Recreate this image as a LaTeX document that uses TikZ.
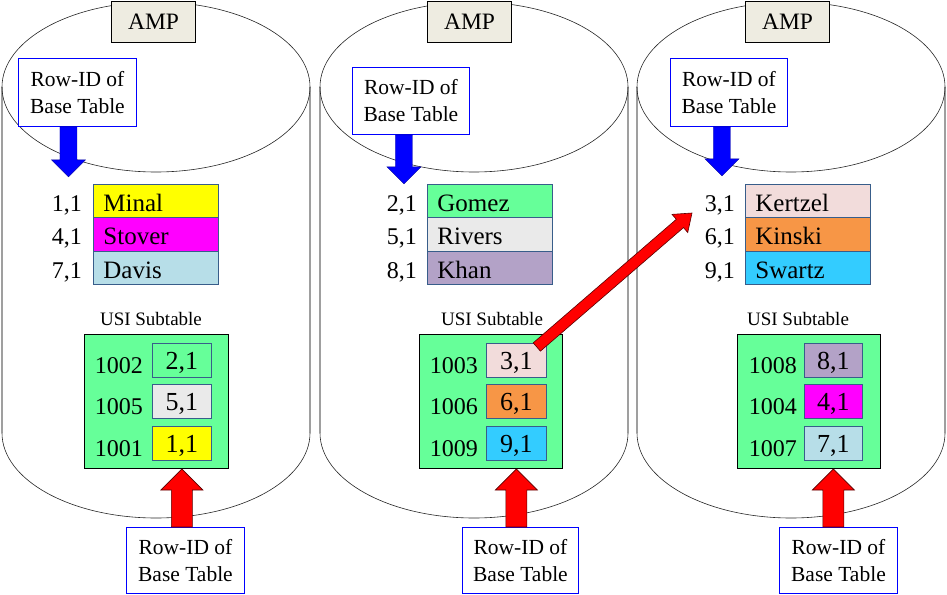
\documentclass[tikz,border=0pt]{standalone}
\usepackage{fontspec}
\setmainfont{Liberation Serif}
\usetikzlibrary{calc}
\definecolor{ampfill}{HTML}{EEECE1}
\definecolor{tabedge}{HTML}{385D8A}
\definecolor{usigreen}{HTML}{66FF99}
\definecolor{rowidblue}{HTML}{0000FF}
\definecolor{cYellow}{HTML}{FFFF00}
\definecolor{cMagenta}{HTML}{FF00FF}
\definecolor{cLightBlue}{HTML}{B7DEE8}
\definecolor{cGreen}{HTML}{66FF99}
\definecolor{cGrey}{HTML}{EAEAEA}
\definecolor{cLilac}{HTML}{B3A2C7}
\definecolor{cPink}{HTML}{F2DCDB}
\definecolor{cOrange}{HTML}{F79646}
\definecolor{cCyan}{HTML}{33CCFF}
\newcommand\blockarr[6]{%
  \coordinate (bahb) at ($(#3)!#6!(#2)$);
  \draw[#1] ($(#2)!#4!90:(#3)$) -- ($(bahb)!#4!90:(#3)$) -- ($(bahb)!#5!90:(#3)$) -- (#3)
    -- ($(bahb)!#5!-90:(#3)$) -- ($(bahb)!#4!-90:(#3)$) -- ($(#2)!#4!-90:(#3)$) -- cycle;}
\newcommand\drawcyl[1]{%
  \draw[cylside] (#1-154,87) -- (#1-154,433);
  \draw[cylside] (#1+154,87) -- (#1+154,433);
  \draw[cylrim] (#1-154,433) arc[start angle=180, end angle=0, x radius=154, y radius=85];
  \draw[cylrim] (#1,87) ellipse [x radius=154, y radius=85];}
\begin{document}
\begin{tikzpicture}[x=1pt,y=-1pt,
  cylside/.style={draw=gray!75, line width=1.3pt},
  cylrim/.style={draw=black!85, line width=0.6pt},
  ampbox/.style={draw=black, line width=1pt, fill=ampfill, minimum width=84, minimum height=41,
    inner sep=0, anchor=north west, font=\fontsize{23.5}{28}\selectfont},
  rowid/.style={draw=rowidblue, line width=0.9pt, fill=white, minimum width=118, minimum height=68,
    inner sep=0, align=center, anchor=north west, font=\fontsize{21.5}{27}\selectfont},
  namecell/.style={draw=tabedge, line width=0.8pt, minimum width=125, minimum height=33.3,
    text width=105, inner xsep=10, inner ysep=0, text height=21, text depth=-4, align=left,
    anchor=north west, font=\fontsize{25}{30}\selectfont},
  lbl/.style={inner sep=0, anchor=base east, font=\fontsize{24}{28}\selectfont},
  usibox/.style={draw=black, line width=1pt, fill=usigreen, minimum width=144, minimum height=134,
    inner sep=0, anchor=north west},
  usicell/.style={draw=tabedge, line width=0.8pt, minimum width=59, minimum height=34, inner sep=0,
    text height=18, text depth=0, anchor=north west, font=\fontsize{26}{30}\selectfont},
  usititle/.style={inner sep=0, anchor=base, font=\fontsize{19}{22}\selectfont},
  bluearr/.style={fill=blue, draw=blue!60!black, line width=0.4pt},
  redarr/.style={fill=red, draw=red!35!black, line width=0.6pt}]
\useasboundingbox (0,0) rectangle (947,594);

% bottom row-id box of the third AMP
\node[rowid, minimum height=66] (rw3) at (779,527) {Row-ID of\\Base Table};

% cylinders
\drawcyl{156}
\drawcyl{474}
\drawcyl{791}

% bottom row-id boxes
\node[rowid, minimum height=66] (rw1) at (126,527) {Row-ID of\\Base Table};
\node[rowid, minimum width=116, minimum height=66] (rw2) at (462,527) {Row-ID of\\Base Table};

% ---------- AMP 1 ----------
\node[ampbox] (amp1) at (111,1) {AMP};
\node[rowid] (rt1) at (18,58) {Row-ID of\\Base Table};
\node[namecell, fill=cYellow] (n11) at (93,184) {Minal};
\node[namecell, fill=cMagenta] (n12) at (93,217.3) {Stover};
\node[namecell, fill=cLightBlue] (n13) at (93,250.6) {Davis};
\node[lbl] (l11) at ($(n11.base west)+(-11,0)$) {1,1};
\node[lbl] (l12) at ($(n12.base west)+(-11,0)$) {4,1};
\node[lbl] (l13) at ($(n13.base west)+(-11,0)$) {7,1};
\coordinate (bb1) at ($(rt1.south)+(-9,0)$);
\coordinate (bt1) at ($(rt1.south)+(-9,50)$);
\blockarr{bluearr}{bb1}{bt1}{8.5pt}{17pt}{17pt}
\node[usititle] (ut1) at (151,325) {USI Subtable};
\node[usibox] (g1) at (84,334) {};
\node[usicell, fill=cGreen] (u11) at (152,343) {2,1};
\node[usicell, fill=cGrey] (u12) at (152,384) {5,1};
\node[usicell, fill=cYellow] (u13) at (152,426) {1,1};
\node[lbl] (k11) at ($(u11.base west)+(-9,4)$) {1002};
\node[lbl] (k12) at ($(u12.base west)+(-9,4)$) {1005};
\node[lbl] (k13) at ($(u13.base west)+(-9,4)$) {1001};
\coordinate (rtp1) at (u13.south |- g1.south);
\coordinate (rb1) at (u13.south |- rw1.north);
\blockarr{redarr}{rb1}{rtp1}{10.5pt}{21pt}{21pt}

% ---------- AMP 2 ----------
\node[ampbox] (amp2) at (427,1) {AMP};
\node[rowid, minimum width=117, minimum height=67] (rt2) at (352,67) {Row-ID of\\Base Table};
\node[namecell, fill=cGreen] (n21) at (427,184) {Gomez};
\node[namecell, fill=cGrey] (n22) at (427,217.3) {Rivers};
\node[namecell, fill=cLilac] (n23) at (427,250.6) {Khan};
\node[lbl] (l21) at ($(n21.base west)+(-10,0)$) {2,1};
\node[lbl] (l22) at ($(n22.base west)+(-10,0)$) {5,1};
\node[lbl] (l23) at ($(n23.base west)+(-10,0)$) {8,1};
\coordinate (bb2) at ($(rt2.south)+(-7,0)$);
\coordinate (bt2) at ($(rt2.south)+(-7,49)$);
\blockarr{bluearr}{bb2}{bt2}{8.5pt}{17pt}{17pt}
\node[usititle] (ut2) at (492,325) {USI Subtable};
\node[usibox, minimum width=143] (g2) at (419,334) {};
\node[usicell, minimum width=60, fill=cPink] (u21) at (486,343) {3,1};
\node[usicell, minimum width=60, fill=cOrange] (u22) at (486,384) {6,1};
\node[usicell, minimum width=60, fill=cCyan] (u23) at (486,426) {9,1};
\node[lbl] (k21) at ($(u21.base west)+(-8,4)$) {1003};
\node[lbl] (k22) at ($(u22.base west)+(-8,4)$) {1006};
\node[lbl] (k23) at ($(u23.base west)+(-8,4)$) {1009};
\coordinate (rtp2) at (u23.south |- g2.south);
\coordinate (rb2) at (u23.south |- rw2.north);
\blockarr{redarr}{rb2}{rtp2}{10.5pt}{21pt}{21pt}

% ---------- AMP 3 ----------
\node[ampbox] (amp3) at (745,1) {AMP};
\node[rowid, minimum width=117] (rt3) at (670,58) {Row-ID of\\Base Table};
\node[namecell, fill=cPink] (n31) at (745,184) {Kertzel};
\node[namecell, fill=cOrange] (n32) at (745,217.3) {Kinski};
\node[namecell, fill=cCyan] (n33) at (745,250.6) {Swartz};
\node[lbl] (l31) at ($(n31.base west)+(-10,0)$) {3,1};
\node[lbl] (l32) at ($(n32.base west)+(-10,0)$) {6,1};
\node[lbl] (l33) at ($(n33.base west)+(-10,0)$) {9,1};
\coordinate (bb3) at ($(rt3.south)+(-7,0)$);
\coordinate (bt3) at ($(rt3.south)+(-7,49)$);
\blockarr{bluearr}{bb3}{bt3}{8.5pt}{17pt}{17pt}
\node[usititle] (ut3) at (798,325) {USI Subtable};
\node[usibox, minimum width=143] (g3) at (737,334) {};
\node[usicell, minimum width=58, fill=cLilac] (u31) at (804,343) {8,1};
\node[usicell, minimum width=58, fill=cMagenta] (u32) at (804,384) {4,1};
\node[usicell, minimum width=58, fill=cLightBlue] (u33) at (804,426) {7,1};
\node[lbl] (k31) at ($(u31.base west)+(-7,4)$) {1008};
\node[lbl] (k32) at ($(u32.base west)+(-7,4)$) {1004};
\node[lbl] (k33) at ($(u33.base west)+(-7,4)$) {1007};
\coordinate (rtp3) at (u33.south |- g3.south);
\coordinate (rb3) at (u33.south |- rw3.north);
\blockarr{redarr}{rb3}{rtp3}{10.5pt}{21pt}{21pt}

% ---------- diagonal arrow ----------
\coordinate (dtail) at ($(u21.north east)+(-10,4)$);
\coordinate (dtip) at (692,213);
\blockarr{redarr}{dtail}{dtip}{5.5pt}{12pt}{16pt}
\end{tikzpicture}
\end{document}
